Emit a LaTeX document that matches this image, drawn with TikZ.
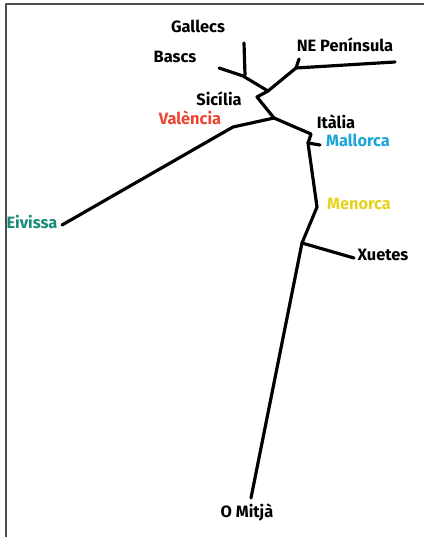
\documentclass[tikz,border=0pt]{standalone}
\usepackage{fontspec}
\setmainfont{Fira Sans}
\definecolor{vermell}{HTML}{EA4630}
\definecolor{blau}{HTML}{1AA6D8}
\definecolor{groc}{HTML}{E6D21E}
\definecolor{verd}{HTML}{178C78}
\tikzset{
  branca/.style={line width=2.7pt, line join=round, line cap=round},
  etiq/.style={font=\bfseries\fontsize{14}{15}\selectfont, inner sep=0pt}
}
\begin{document}
\begin{tikzpicture}[x=0.03cm,y=-0.03cm, line join=round, line cap=round]
\useasboundingbox (0,0) rectangle (424,537);
\draw[line width=1.6pt,gray!60!black] (6,537)--(6,4)--(424,4);
% nusos
\coordinate (gl) at (244,43);
\coordinate (ng) at (245,75);
\coordinate (bl) at (219,68);
\coordinate (nb) at (243,76);
\coordinate (n1) at (268,91);
\coordinate (nne) at (296,68);
\coordinate (nel) at (299,59);
\coordinate (nee) at (395,62);
\coordinate (z1) at (257,97);
\coordinate (n2) at (274,118);
\coordinate (nv) at (233,127);
\coordinate (ei) at (62,225);
\coordinate (n3) at (311,134);
\coordinate (nm) at (308,143);
\coordinate (ml) at (320,145);
\coordinate (n4) at (317,207);
\coordinate (n5) at (302,243);
\coordinate (xu) at (354,258);
\coordinate (om) at (251,498);
% branques
\draw[branca] (gl)--(ng);
\draw[branca] (bl)--(nb)--(n1)--(nne)--(nee);
\draw[branca] (nne)--(nel);
\draw[branca] (n1)--(z1)--(n2)--(nv)--(ei);
\draw[branca] (n2)--(n3)--(nm)--(n4)--(n5)--(om);
\draw[branca] (nm)--(ml);
\draw[branca] (n5)--(xu);
% etiquetes
\node[etiq] (gallecs) at (198,26) {Gallecs};
\node[etiq] (bascs) at (175,57) {Bascs};
\node[etiq] (ne) at (345,45) {NE Península};
\node[etiq] (sicilia) at (219,99) {Sicília};
\node[etiq,vermell] (valencia) at (190,118) {València};
\node[etiq] (italia) at (336,122) {Itàlia};
\node[etiq,blau] (mallorca) at (358,140) {Mallorca};
\node[etiq,groc] (menorca) at (359,204) {Menorca};
\node[etiq,verd] (eivissa) at (32,222) {Eivissa};
\node[etiq] (xuetes) at (383,255) {Xuetes};
\node[etiq] (omitja) at (247,512) {O Mitjà};
\end{tikzpicture}
\end{document}
